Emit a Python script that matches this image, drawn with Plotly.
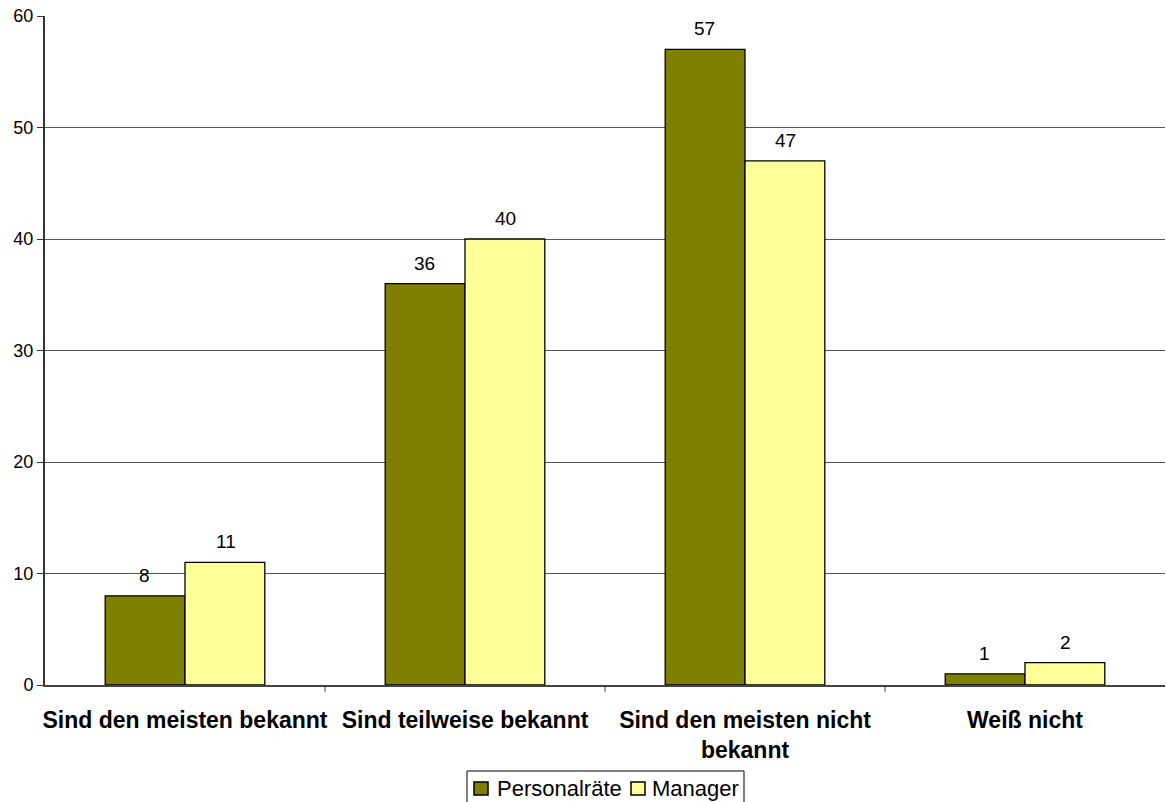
import plotly.graph_objects as go

categories = ["Sind den meisten bekannt", "Sind teilweise bekannt",
              "Sind den meisten nicht<br>bekannt", "Weiß nicht"]
personalraete = [8, 36, 57, 1]
manager = [11, 40, 47, 2]

FONT = "Liberation Sans, Arial"
W, H = 1166, 802
ML, MR, MT, MB = 45, 1, 16, 117
PW, PH = W - ML - MR, H - MT - MB

series = [("Personalräte", personalraete, "#808000", -40.5),
          ("Manager", manager, "#FFFF99", 40.5)]


def px(x):
    """page pixel x -> paper coordinate"""
    return (x - ML) / PW


def py(y):
    """page pixel y -> paper coordinate"""
    return (H - MB - y) / PH


fig = go.Figure()
for name, vals, color, _ in series:
    fig.add_trace(go.Bar(
        x=categories, y=vals, name=name,
        marker=dict(color=color, line=dict(color="#000000", width=1.3)),
    ))

# value labels above each bar
for name, vals, color, dx in series:
    for c, v in zip(categories, vals):
        fig.add_annotation(x=c, y=v, text=str(v), showarrow=False,
                           xref="x", yref="y", xshift=dx, yshift=8,
                           yanchor="bottom",
                           font=dict(family=FONT, size=19, color="#000"))

fig.update_layout(
    width=W, height=H,
    margin=dict(l=ML, r=MR, t=MT, b=MB, autoexpand=False),
    paper_bgcolor="white", plot_bgcolor="white",
    barmode="group", bargap=0.43, bargroupgap=0,
    font=dict(family=FONT, color="#000"),
    showlegend=False,
    xaxis=dict(showline=True, linecolor="#444", linewidth=2,
               ticks="", tickfont=dict(size=23, family=FONT, weight="bold"),
               ticklabelstandoff=13, automargin=False),
    yaxis=dict(range=[0, 60], dtick=10, showline=True, linecolor="#333", linewidth=2,
               ticks="outside", ticklen=6, tickcolor="#333", tickwidth=1,
               showgrid=True, gridcolor="#555", gridwidth=1,
               zeroline=False, automargin=False,
               tickfont=dict(size=18, family=FONT)),
)

# category separator ticks on the x axis
for i in range(1, len(categories)):
    fig.add_shape(type="line", xref="x", yref="paper",
                  x0=i - 0.5, x1=i - 0.5, y0=0, y1=-0.01,
                  line=dict(color="#333", width=1))

# boxed legend below the axis (runs off the bottom edge of the page)
fig.add_shape(type="rect", xref="paper", yref="paper",
              x0=px(467), x1=px(744), y0=py(812), y1=py(771),
              line=dict(color="#000", width=1), fillcolor="white", layer="above")
legend_slots = [(474, 495), (631, 650)]
for (name, _, color, _), (sx, tx) in zip(series, legend_slots):
    fig.add_shape(type="rect", xref="paper", yref="paper",
                  x0=px(sx), x1=px(sx + 14), y0=py(795), y1=py(782),
                  line=dict(color="#000", width=1.5), fillcolor=color, layer="above")
    fig.add_annotation(x=px(tx), y=py(788.5), xref="paper", yref="paper",
                       text=name, showarrow=False, xanchor="left", yanchor="middle",
                       font=dict(family=FONT, size=22, color="#000"))

fig.write_html("out.html")
